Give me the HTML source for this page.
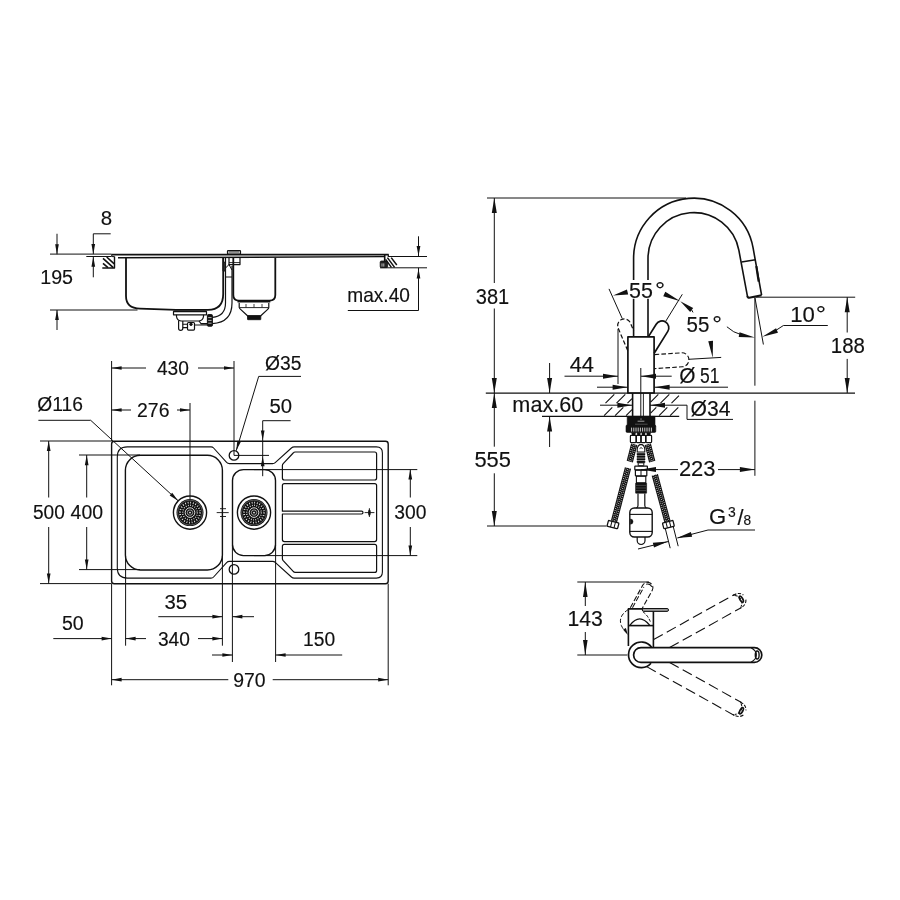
<!DOCTYPE html>
<html lang="en">
<head>
<meta charset="utf-8">
<title>Dimensional drawing</title>
<style>
html,body{margin:0;padding:0;background:#fff;}
body{width:900px;height:900px;overflow:hidden;}
svg{display:block;will-change:transform;}
svg text{font-family:"Liberation Sans",Arial,Helvetica,sans-serif;fill:#111;stroke:#111;stroke-width:0.15px;}
</style>
</head>
<body>
<svg width="900" height="900" viewBox="0 0 900 900" fill="none" stroke="#111" stroke-linecap="butt" stroke-linejoin="round">
<rect x="0" y="0" width="900" height="900" fill="#fff" stroke="none"/>
<g id="sink-side">
<line x1="111.3" y1="254.6" x2="388.7" y2="254.6" stroke-width="1.9"/>
<line x1="118" y1="257.8" x2="384" y2="256.6" stroke-width="1.4"/>
<path d="M111.8 254.6 V256.6 H114.5" stroke-width="1" fill="none"/>
<path d="M126 257.7 V296 Q126 308.3 140 308.6 L176 309.8 H208 Q223.2 309.8 223.2 294 V257.7" stroke-width="1.8" fill="none"/>
<path d="M233.3 257.7 V295 Q233.3 300.6 239 300.6 H269.5 Q275.3 300.6 275.3 295 V257.7" stroke-width="1.8" fill="none"/>
<path d="M173.5 311.6 H206.5 V314.8 H173.5 Z" stroke-width="1.2" fill="none"/>
<line x1="173.5" y1="311.2" x2="206.5" y2="311.2" stroke-width="1.6"/>
<path d="M176.5 314.8 V316.5 Q177 320.5 181 321 H199 Q203 320.5 203.5 316.5 V314.8" stroke-width="1.2" fill="none"/>
<path d="M178.6 320.5 V328.2 Q178.6 330.3 180.6 330.3 Q182.8 330.3 182.8 328.2 V321" stroke-width="1.2" fill="none"/>
<path d="M182.8 324.2 H187.5 M182.8 327.6 H187.5" stroke-width="1.1" fill="none"/>
<rect x="187.5" y="322.5" width="7" height="7.6" rx="1" stroke-width="1.2" fill="none"/>
<circle cx="191" cy="324.3" r="1.3" stroke-width="0.8" fill="#111"/>
<path d="M194.5 325 H207.4 M199 321 L201 323.6 H207.4" stroke-width="1.1" fill="none"/>
<rect x="207.4" y="314.6" width="5" height="11.6" rx="0.8" stroke-width="1" fill="#111"/>
<path d="M208.2 317.6 H211.6 M208.2 320.4 H211.6 M208.2 323.2 H211.6" stroke-width="0.7" fill="none" stroke="#fff"/>
<path d="M212.4 317.4 Q225.5 316 225.5 303 V272" stroke-width="1.2" fill="none"/>
<path d="M212.4 323.6 Q232 322.5 232 303 V266" stroke-width="1.2" fill="none"/>
<line x1="225.5" y1="277" x2="232" y2="277" stroke-width="1"/>
<path d="M223.2 258 V270.6 H225.5 M225.5 258 V272" stroke-width="1.2" fill="none"/>
<rect x="223.4" y="262" width="2" height="9" rx="0.3" stroke-width="0.6" fill="#333"/>
<path d="M225.5 268 L229 264.6 M229 264.6 L232 270" stroke-width="1" fill="none"/>
<rect x="227.5" y="250.6" width="13" height="3.6" rx="0.6" stroke-width="1.2" fill="none"/>
<line x1="228.6" y1="252" x2="239.4" y2="252" stroke-width="0.9"/>
<path d="M229 257.7 V264.6 H240 V257.7" stroke-width="1.2" fill="none"/>
<line x1="229" y1="262.6" x2="240" y2="262.6" stroke-width="0.9"/>
<line x1="237.5" y1="301.6" x2="270.3" y2="301.6" stroke-width="2"/>
<path d="M239.2 303 V307.4 Q239.6 308.6 240.6 309.4 L247.5 315.8 H260.8 L267.7 309.4 Q268.7 308.6 268.8 307.4 V303" stroke-width="1.2" fill="none"/>
<line x1="239.6" y1="307.6" x2="268.4" y2="307.6" stroke-width="0.9"/>
<path d="M246 304 V307.4 M254 304 V307.4 M262 304 V307.4" stroke-width="0.8" fill="none"/>
<rect x="247.5" y="315.8" width="13.3" height="3.9" rx="0.4" stroke-width="0.8" fill="#111"/>
<path d="M114.5 256.6 V268 H102.3" stroke-width="1.4" fill="none"/>
<path d="M103 258.3 L113.3 267.7 M106.7 257 L114.2 263.8 M103 263.3 L108 267.7" stroke-width="1.6" fill="none"/>
<path d="M388.3 254.6 V257" stroke-width="1.2" fill="none"/>
<rect x="380.2" y="261" width="7.4" height="6.6" rx="1.2" stroke-width="0.8" fill="#222"/>
<path d="M382 263.4 V266.6 M383.8 263.4 V266.6" stroke-width="0.7" fill="none" stroke="#fff"/>
<line x1="384.7" y1="255" x2="384.7" y2="262" stroke-width="1.6"/>
<path d="M385.6 259.4 L391.4 267.4 M387.4 257.6 L394.6 267.4 M391.2 257.6 L396.8 265" stroke-width="1.5" fill="none"/>
<line x1="388.3" y1="256.5" x2="427" y2="256.5" stroke-width="1"/>
<line x1="380" y1="267.8" x2="427" y2="267.8" stroke-width="1"/>
<line x1="418.5" y1="236.3" x2="418.5" y2="256.2" stroke-width="1"/>
<polygon points="418.5,255.9 416.65,245.9 420.35,245.9" fill="#111" stroke="none"/>
<line x1="418.5" y1="267.8" x2="418.5" y2="310.5" stroke-width="1"/>
<polygon points="418.5,268.4 420.35,278.4 416.65,278.4" fill="#111" stroke="none"/>
<line x1="347.8" y1="310.5" x2="418.5" y2="310.5" stroke-width="1"/>
<text transform="translate(347.23 302.2) scale(0.9335 1)" font-size="20.49">max.40</text>
<line x1="50" y1="254.1" x2="111.3" y2="254.1" stroke-width="1"/>
<line x1="86.3" y1="256.5" x2="111.5" y2="256.5" stroke-width="1"/>
<line x1="50" y1="310" x2="137.5" y2="310" stroke-width="1"/>
<line x1="57" y1="233.75" x2="57" y2="254.25" stroke-width="1"/>
<polygon points="57,254.25 55.15,244.25 58.85,244.25" fill="#111" stroke="none"/>
<line x1="57" y1="310" x2="57" y2="330" stroke-width="1"/>
<polygon points="57,310 58.85,320 55.15,320" fill="#111" stroke="none"/>
<path d="M110.7 233.8 H93.3 V254.1" stroke-width="1" fill="none"/>
<polygon points="93.3,253.9 91.45,243.9 95.15,243.9" fill="#111" stroke="none"/>
<line x1="93.3" y1="256.8" x2="93.3" y2="277.3" stroke-width="1"/>
<polygon points="93.3,256.8 95.15,266.8 91.45,266.8" fill="#111" stroke="none"/>
<text transform="translate(100.71 224.5) scale(0.9986 1)" font-size="20.49">8</text>
<text transform="translate(40.2 283.9) scale(0.9603 1)" font-size="20.49">195</text>
</g>
<g id="sink-plan">
<rect x="111.6" y="441.2" width="276.6" height="142.5" rx="2.7" stroke-width="1.4" fill="none"/>
<path d="M127.3 446.9 H211 Q212.6 446.9 213.6 448 L226.6 462.4 Q227.8 463.6 229.4 463.6 H272.6 Q274.2 463.6 275.2 462.6 L291.4 448 Q292.6 446.9 294.2 446.9 H376.4 Q382.4 446.9 382.4 452.9 V572.1 Q382.4 578.1 376.4 578.1 H294.2 Q292.6 578.1 291.4 577 L275.2 562.4 Q274.2 561.4 272.6 561.4 H229.4 Q227.8 561.4 226.6 562.6 L213.6 577 Q212.6 578.1 211 578.1 H127.3 Q117.3 578.1 117.3 568.1 V456.9 Q117.3 446.9 127.3 446.9 Z" stroke-width="1.1" fill="none"/>
<rect x="125.4" y="455.3" width="97" height="114.7" rx="15" stroke-width="1.4" fill="none"/>
<rect x="232.5" y="469.6" width="43" height="86" rx="11" stroke-width="1.4" fill="none"/>
<circle cx="234" cy="455.4" r="4.8" stroke-width="1.3" fill="none"/>
<circle cx="234" cy="569.4" r="4.8" stroke-width="1.3" fill="none"/>
<path d="M295.2 452 H374.6 Q376.6 452 376.6 454 V478 Q376.6 480 374.6 480 H284.4 Q282.4 480 282.4 478 V465.6 Q282.4 464.6 283.2 463.7 L293.2 453 Q294 452 295.2 452 Z" stroke-width="1.2" fill="none"/>
<path d="M284.4 483.6 H374.6 Q376.6 483.6 376.6 485.6 V539.6 Q376.6 541.6 374.6 541.6 H284.4 Q282.4 541.6 282.4 539.6 V514 H361.6 A1.4 1.4 0 0 0 361.6 511.2 H282.4 V485.6 Q282.4 483.6 284.4 483.6 Z" stroke-width="1.2" fill="none"/>
<path d="M295.2 572.4 H374.6 Q376.6 572.4 376.6 570.4 V546.4 Q376.6 544.4 374.6 544.4 H284.4 Q282.4 544.4 282.4 546.4 V558.8 Q282.4 559.8 283.2 560.7 L293.2 571.4 Q294 572.4 295.2 572.4 Z" stroke-width="1.2" fill="none"/>
<line x1="364.6" y1="512.6" x2="374.4" y2="512.6" stroke-width="0.9"/>
<line x1="369.4" y1="508.2" x2="369.4" y2="517" stroke-width="0.9"/>
<ellipse cx="369.4" cy="512.6" rx="1.3" ry="3.2" fill="#111" stroke="none"/>
<circle cx="190" cy="512.6" r="16.6" stroke-width="1.4" fill="#fff"/>
<circle cx="190" cy="512.6" r="13.5" stroke-width="0" fill="#111" stroke="none"/>
<circle cx="190" cy="512.6" r="12.5" stroke-width="0.4" fill="none" stroke="#bbb"/>
<circle cx="190" cy="512.6" r="10" stroke-width="1.8" fill="none" stroke="#fff" stroke-dasharray="0.8 1.818"/>
<circle cx="190" cy="512.6" r="7.3" stroke-width="1.4" fill="none" stroke="#fff" stroke-dasharray="0.75 1.543"/>
<circle cx="190" cy="512.6" r="4.8" stroke-width="0.85" fill="none" stroke="#fff"/>
<circle cx="190" cy="512.6" r="2.7" stroke-width="0.6" fill="none" stroke="#eee"/>
<circle cx="190" cy="512.6" r="0.9" stroke-width="0" fill="#eee" stroke="none"/>
<circle cx="254" cy="512.6" r="16.6" stroke-width="1.4" fill="#fff"/>
<circle cx="254" cy="512.6" r="13.5" stroke-width="0" fill="#111" stroke="none"/>
<circle cx="254" cy="512.6" r="12.5" stroke-width="0.4" fill="none" stroke="#bbb"/>
<circle cx="254" cy="512.6" r="10" stroke-width="1.8" fill="none" stroke="#fff" stroke-dasharray="0.8 1.818"/>
<circle cx="254" cy="512.6" r="7.3" stroke-width="1.4" fill="none" stroke="#fff" stroke-dasharray="0.75 1.543"/>
<circle cx="254" cy="512.6" r="4.8" stroke-width="0.85" fill="none" stroke="#fff"/>
<circle cx="254" cy="512.6" r="2.7" stroke-width="0.6" fill="none" stroke="#eee"/>
<circle cx="254" cy="512.6" r="0.9" stroke-width="0" fill="#eee" stroke="none"/>
<line x1="190" y1="403" x2="190" y2="499.4" stroke-width="1"/>
<line x1="216.7" y1="512.6" x2="228.7" y2="512.6" stroke-width="0.9"/>
<line x1="220" y1="508.7" x2="226" y2="508.7" stroke-width="0.9"/>
<line x1="220" y1="516.5" x2="226" y2="516.5" stroke-width="0.9"/>
<line x1="234" y1="455.4" x2="269" y2="455.4" stroke-width="1"/>
<line x1="111.6" y1="361" x2="111.6" y2="441" stroke-width="1"/>
<line x1="234" y1="361" x2="234" y2="455.4" stroke-width="1"/>
<line x1="111.6" y1="368" x2="146" y2="368" stroke-width="1"/>
<line x1="198" y1="368" x2="234" y2="368" stroke-width="1"/>
<polygon points="111.6,368 121.6,366.15 121.6,369.85" fill="#111" stroke="none"/>
<polygon points="234,368 224,369.85 224,366.15" fill="#111" stroke="none"/>
<text transform="translate(156.96 375.2) scale(0.9358 1)" font-size="20.49">430</text>
<line x1="111.6" y1="410" x2="131" y2="410" stroke-width="1"/>
<line x1="177" y1="410" x2="190" y2="410" stroke-width="1"/>
<polygon points="111.6,410 121.6,408.15 121.6,411.85" fill="#111" stroke="none"/>
<polygon points="190,410 180,411.85 180,408.15" fill="#111" stroke="none"/>
<text transform="translate(137.02 416.8) scale(0.9488 1)" font-size="20.49">276</text>
<text transform="translate(265.03 369.7) scale(0.9394 1)" font-size="20.49">&#216;35</text>
<path d="M301 376.4 H258.7 L236.2 450.8" stroke-width="1" fill="none"/>
<polygon points="236.2,450.8 237.32,440.69 240.86,441.76" fill="#111" stroke="none"/>
<text transform="translate(37.33 411.1) scale(0.9401 1)" font-size="20.49">&#216;116</text>
<path d="M38.4 420.3 H90.7 L178.3 500.9" stroke-width="1" fill="none"/>
<polygon points="178.3,500.9 169.69,495.49 172.19,492.77" fill="#111" stroke="none"/>
<text transform="translate(269.49 412.9) scale(0.9921 1)" font-size="20.49">50</text>
<path d="M290.6 420.7 H262.7 V476.2" stroke-width="1" fill="none"/>
<polygon points="262.7,440.4 260.85,430.4 264.55,430.4" fill="#111" stroke="none"/>
<polygon points="262.7,456.2 264.55,466.2 260.85,466.2" fill="#111" stroke="none"/>
<line x1="40" y1="441" x2="111.6" y2="441" stroke-width="1"/>
<line x1="40" y1="583.6" x2="111.6" y2="583.6" stroke-width="1"/>
<line x1="48.7" y1="441" x2="48.7" y2="497.5" stroke-width="1"/>
<line x1="48.7" y1="527" x2="48.7" y2="583.6" stroke-width="1"/>
<polygon points="48.7,441 50.55,451 46.85,451" fill="#111" stroke="none"/>
<polygon points="48.7,583.6 46.85,573.6 50.55,573.6" fill="#111" stroke="none"/>
<text transform="translate(32.94 519.2) scale(0.9306 1)" font-size="20.49">500</text>
<line x1="79" y1="455" x2="140" y2="455" stroke-width="1"/>
<line x1="79" y1="569.6" x2="140" y2="569.6" stroke-width="1"/>
<line x1="86.7" y1="455" x2="86.7" y2="497.5" stroke-width="1"/>
<line x1="86.7" y1="527" x2="86.7" y2="569.6" stroke-width="1"/>
<polygon points="86.7,455.2 88.55,465.2 84.85,465.2" fill="#111" stroke="none"/>
<polygon points="86.7,569.6 84.85,559.6 88.55,559.6" fill="#111" stroke="none"/>
<text transform="translate(70.55 519.2) scale(0.9510 1)" font-size="20.49">400</text>
<line x1="254" y1="469.6" x2="417.3" y2="469.6" stroke-width="1"/>
<line x1="254" y1="555.6" x2="417.3" y2="555.6" stroke-width="1"/>
<line x1="410.3" y1="469.6" x2="410.3" y2="497.5" stroke-width="1"/>
<line x1="410.3" y1="527" x2="410.3" y2="555.6" stroke-width="1"/>
<polygon points="410.3,469.6 412.15,479.6 408.45,479.6" fill="#111" stroke="none"/>
<polygon points="410.3,555.6 408.45,545.6 412.15,545.6" fill="#111" stroke="none"/>
<text transform="translate(394.27 519.2) scale(0.9417 1)" font-size="20.49">300</text>
<text transform="translate(164.53 608.9) scale(0.9930 1)" font-size="20.49">35</text>
<line x1="158.3" y1="616.7" x2="222.4" y2="616.7" stroke-width="1"/>
<polygon points="222.4,616.7 212.4,618.55 212.4,614.85" fill="#111" stroke="none"/>
<line x1="232.4" y1="616.7" x2="254" y2="616.7" stroke-width="1"/>
<polygon points="232.4,616.7 242.4,614.85 242.4,618.55" fill="#111" stroke="none"/>
<line x1="222.4" y1="556" x2="222.4" y2="645.7" stroke-width="1"/>
<line x1="232.4" y1="545" x2="232.4" y2="662" stroke-width="1"/>
<line x1="125.6" y1="556" x2="125.6" y2="645.7" stroke-width="1"/>
<line x1="125.6" y1="638.6" x2="146" y2="638.6" stroke-width="1"/>
<line x1="198" y1="638.6" x2="222.4" y2="638.6" stroke-width="1"/>
<polygon points="125.6,638.6 135.6,636.75 135.6,640.45" fill="#111" stroke="none"/>
<polygon points="222.4,638.6 212.4,640.45 212.4,636.75" fill="#111" stroke="none"/>
<text transform="translate(157.97 645.8) scale(0.9355 1)" font-size="20.49">340</text>
<text transform="translate(61.92 629.9) scale(0.9543 1)" font-size="20.49">50</text>
<line x1="53.3" y1="638.6" x2="111.6" y2="638.6" stroke-width="1"/>
<polygon points="111.6,638.6 101.6,640.45 101.6,636.75" fill="#111" stroke="none"/>
<text transform="translate(303.03 645.9) scale(0.9396 1)" font-size="20.49">150</text>
<line x1="212" y1="655" x2="232.4" y2="655" stroke-width="1"/>
<polygon points="232.4,655 222.4,656.85 222.4,653.15" fill="#111" stroke="none"/>
<line x1="275.6" y1="655" x2="342.2" y2="655" stroke-width="1"/>
<polygon points="275.6,655 285.6,653.15 285.6,656.85" fill="#111" stroke="none"/>
<line x1="275.6" y1="545" x2="275.6" y2="662" stroke-width="1"/>
<line x1="111.6" y1="583.6" x2="111.6" y2="685.3" stroke-width="1"/>
<line x1="388.2" y1="583.6" x2="388.2" y2="685.3" stroke-width="1"/>
<line x1="111.6" y1="679.7" x2="228.3" y2="679.7" stroke-width="1"/>
<line x1="272.7" y1="679.7" x2="388.2" y2="679.7" stroke-width="1"/>
<polygon points="111.6,679.7 121.6,677.85 121.6,681.55" fill="#111" stroke="none"/>
<polygon points="388.2,679.7 378.2,681.55 378.2,677.85" fill="#111" stroke="none"/>
<text transform="translate(233.29 686.9) scale(0.9469 1)" font-size="20.49">970</text>
</g>
<g id="faucet-side">
<path d="M633.6 337 V298.8 M633.6 280 V258.4 A60.2 60.2 0 0 1 753.09 247.95 L761.6 295.2" stroke-width="1.6" fill="none"/>
<path d="M648 337 V298.8 M648 280 V258.4 A45.8 45.8 0 0 1 738.9 250.45 L747.6 297.2" stroke-width="1.6" fill="none"/>
<line x1="741.5" y1="262" x2="755.5" y2="259.7" stroke-width="1.6"/>
<path d="M747.4 296 Q747.9 298.1 749.2 297.7 L761.6 295.2" stroke-width="2" fill="none"/>
<line x1="756.3" y1="266.2" x2="758.7" y2="281.6" stroke-width="2.2"/>
<rect x="627.9" y="336.9" width="26.2" height="56.1" rx="0" stroke-width="1.7" fill="none"/>
<line x1="632.6" y1="393" x2="632.6" y2="416.3" stroke-width="1.6"/>
<line x1="650" y1="393" x2="650" y2="416.3" stroke-width="1.6"/>
<line x1="640.8" y1="368" x2="640.8" y2="416.3" stroke-width="1"/>
<line x1="643.4" y1="393" x2="643.4" y2="416.3" stroke-width="0.9"/>
<path d="M648.3 336.9 L656.2 324.2 A6.8 6.8 0 0 1 667.8 331.4 L654.2 353.3" stroke-width="1.7" fill="none"/>
<path d="M627.7 350.6 L618.2 328.2 A6.6 6.6 0 0 1 630.4 323 L633.7 331" stroke-width="1.2" fill="none" stroke-dasharray="4.4 2.2"/>
<path d="M654.6 354.6 L681.4 352.8 A7 7 0 0 1 682.4 366.8 L654.6 368.6" stroke-width="1.1" fill="none" stroke-dasharray="4.6 2.2"/>
<line x1="688.6" y1="359.3" x2="721.2" y2="357.4" stroke-width="1"/>
<line x1="485.8" y1="393.2" x2="855" y2="393.2" stroke-width="1.25"/>
<line x1="542" y1="416.3" x2="679.2" y2="416.3" stroke-width="1.3"/>
<path d="M605.5 403.2 L614.3 394.4 M616.5 403.2 L625.3 394.4 M604.1 415.6 L612.3 407.4 M627.5 403.2 L632 398.7 M615.1 415.6 L623.3 407.4 M626.1 415.6 L632 409.7 M650.6 402.1 L658.3 394.4 M660.5 403.2 L669.3 394.4 M650.6 413.1 L656.3 407.4 M671.5 403.2 L679 395.7 M659.1 415.6 L667.3 407.4 M670.1 415.6 L678.3 407.4" stroke-width="1.1" fill="none"/>
<rect x="627.2" y="416.4" width="27.8" height="10" rx="0.6" stroke-width="0.6" fill="#111"/>
<rect x="626" y="425" width="29.8" height="7.4" rx="1.2" stroke-width="0.6" fill="#111"/>
<path d="M631.6 427.6 V431.6 M633.8 427.6 V431.6 M636 427.6 V431.6 M638.2 427.6 V431.6 M640.4 427.6 V431.6 M642.6 427.6 V431.6 M644.8 427.6 V431.6 M647 427.6 V431.6 M649.2 427.6 V431.6 M651.4 427.6 V431.6" stroke-width="0.8" fill="none" stroke="#fff"/>
<path d="M637.6 421.2 H644.4 M641 418.4 V419.8" stroke-width="0.6" fill="none" stroke="#fff"/>
<path d="M635 424.2 H647.6" stroke-width="0.5" fill="none" stroke="#888"/>
<path d="M631.6 432.4 H635.6 L635 435.4 H632.2 Z M637 432.4 H640.4 L640 435.4 H637.4 Z M641.8 432.4 H645.2 L644.8 435.4 H642.2 Z M646.6 432.4 H650.6 L650 435.4 H647.2 Z" stroke-width="0.5" fill="#111"/>
<rect x="630.4" y="435.4" width="5.6" height="7.2" rx="0.8" stroke-width="1.2" fill="none"/>
<rect x="636.4" y="435.4" width="4.4" height="7.2" rx="0.8" stroke-width="1.2" fill="none"/>
<rect x="641.2" y="435.4" width="4.4" height="7.2" rx="0.8" stroke-width="1.2" fill="none"/>
<rect x="646" y="435.4" width="5.6" height="7.2" rx="0.8" stroke-width="1.2" fill="none"/>
<line x1="634.2" y1="444.2" x2="629.8" y2="461.6" stroke-width="6.4"/>
<line x1="635.85" y1="444.62" x2="631.45" y2="462.02" stroke-width="0.9" stroke="#fff" stroke-dasharray="0.8 1.4" stroke-dashoffset="0"/>
<line x1="634.2" y1="444.2" x2="629.8" y2="461.6" stroke-width="0.9" stroke="#fff" stroke-dasharray="0.8 1.4" stroke-dashoffset="1.1"/>
<line x1="632.55" y1="443.78" x2="628.15" y2="461.18" stroke-width="0.9" stroke="#fff" stroke-dasharray="0.8 1.4" stroke-dashoffset="0"/>
<line x1="647.8" y1="444.2" x2="652.2" y2="461.6" stroke-width="6.4"/>
<line x1="649.45" y1="443.78" x2="653.85" y2="461.18" stroke-width="0.9" stroke="#fff" stroke-dasharray="0.8 1.4" stroke-dashoffset="0"/>
<line x1="647.8" y1="444.2" x2="652.2" y2="461.6" stroke-width="0.9" stroke="#fff" stroke-dasharray="0.8 1.4" stroke-dashoffset="1.1"/>
<line x1="646.15" y1="444.62" x2="650.55" y2="462.02" stroke-width="0.9" stroke="#fff" stroke-dasharray="0.8 1.4" stroke-dashoffset="0"/>
<path d="M641 444.4 Q637.4 445 637.2 449.6 V452 H644.8 V449.6 Q644.6 445 641 444.4" stroke-width="1.1" fill="none"/>
<path d="M639.6 448.6 Q641 446.6 642.6 448.6" stroke-width="0.9" fill="none"/>
<rect x="637" y="453.2" width="8" height="1.7" rx="0.2" stroke-width="0.5" fill="#111"/>
<rect x="637" y="455.8" width="8" height="1.7" rx="0.2" stroke-width="0.5" fill="#111"/>
<rect x="637" y="458.4" width="8" height="1.7" rx="0.2" stroke-width="0.5" fill="#111"/>
<rect x="637" y="461" width="8" height="1.7" rx="0.2" stroke-width="0.5" fill="#111"/>
<rect x="638.2" y="462.8" width="5.6" height="3" rx="0.2" stroke-width="1" fill="none"/>
<rect x="634.8" y="466.2" width="12.6" height="3.6" rx="0.4" stroke-width="1.2" fill="none"/>
<rect x="635.4" y="470.2" width="11.4" height="5.6" rx="0.4" stroke-width="1.2" fill="none"/>
<line x1="641" y1="470.2" x2="641" y2="475.8" stroke-width="1"/>
<rect x="636.4" y="476.2" width="9.4" height="6.6" rx="0.4" stroke-width="1.1" fill="none"/>
<rect x="635.6" y="483" width="11" height="10.2" rx="0.3" stroke-width="0.6" fill="#111"/>
<path d="M636 485.4 H646.2 M636 488 H646.2 M636 490.6 H646.2" stroke-width="0.5" fill="none" stroke="#777"/>
<path d="M638 493.4 V505.4 Q638 507.2 636.4 508 M644.8 493.4 V505.4 Q644.8 507.2 646.4 508" stroke-width="1.2" fill="none"/>
<rect x="629.8" y="508" width="22.4" height="29" rx="4.5" stroke-width="1.4" fill="none"/>
<line x1="629.8" y1="514.4" x2="652.2" y2="514.4" stroke-width="1.1"/>
<line x1="629.8" y1="531.4" x2="652.2" y2="531.4" stroke-width="1.1"/>
<path d="M630.4 519 A2.6 2.6 0 0 1 630.4 524.2 Z" stroke-width="0.5" fill="#111"/>
<path d="M637.2 537 V540.6 A3.9 3.9 0 0 0 645 540.6 V537" stroke-width="1.2" fill="none"/>
<line x1="628" y1="468" x2="614" y2="521.4" stroke-width="6.4"/>
<line x1="629.64" y1="468.43" x2="615.64" y2="521.83" stroke-width="0.9" stroke="#fff" stroke-dasharray="0.8 1.4" stroke-dashoffset="0"/>
<line x1="628" y1="468" x2="614" y2="521.4" stroke-width="0.9" stroke="#fff" stroke-dasharray="0.8 1.4" stroke-dashoffset="1.1"/>
<line x1="626.36" y1="467.57" x2="612.36" y2="520.97" stroke-width="0.9" stroke="#fff" stroke-dasharray="0.8 1.4" stroke-dashoffset="0"/>
<line x1="654.8" y1="474.8" x2="667.4" y2="521.4" stroke-width="6.4"/>
<line x1="656.44" y1="474.36" x2="669.04" y2="520.96" stroke-width="0.9" stroke="#fff" stroke-dasharray="0.8 1.4" stroke-dashoffset="0"/>
<line x1="654.8" y1="474.8" x2="667.4" y2="521.4" stroke-width="0.9" stroke="#fff" stroke-dasharray="0.8 1.4" stroke-dashoffset="1.1"/>
<line x1="653.16" y1="475.24" x2="665.76" y2="521.84" stroke-width="0.9" stroke="#fff" stroke-dasharray="0.8 1.4" stroke-dashoffset="0"/>
<g transform="rotate(14.5 613 524.6)">
<rect x="607.6" y="521.6" width="10.8" height="6" rx="0.8" stroke-width="1.3" fill="#fff"/>
<line x1="611.2" y1="521.6" x2="611.2" y2="527.6" stroke-width="1"/>
<line x1="614.8" y1="521.6" x2="614.8" y2="527.6" stroke-width="1"/>
</g>
<g transform="rotate(-14.5 668.4 524.6)">
<rect x="663" y="521.6" width="10.8" height="6" rx="0.8" stroke-width="1.3" fill="#fff"/>
<line x1="666.6" y1="521.6" x2="666.6" y2="527.6" stroke-width="1"/>
<line x1="670.2" y1="521.6" x2="670.2" y2="527.6" stroke-width="1"/>
</g>
<line x1="665.2" y1="528.2" x2="670.2" y2="548.2" stroke-width="1"/>
<line x1="673.2" y1="526.4" x2="678.2" y2="546.2" stroke-width="1"/>
<line x1="487" y1="198" x2="686" y2="198" stroke-width="1"/>
<line x1="487" y1="526" x2="606.6" y2="526" stroke-width="1"/>
<line x1="494.3" y1="198" x2="494.3" y2="283" stroke-width="1"/>
<line x1="494.3" y1="308.5" x2="494.3" y2="446.7" stroke-width="1"/>
<line x1="494.3" y1="473.3" x2="494.3" y2="526" stroke-width="1"/>
<polygon points="494.3,198 496.8,213 491.8,213" fill="#111" stroke="none"/>
<polygon points="494.3,393 491.8,378 496.8,378" fill="#111" stroke="none"/>
<polygon points="494.3,393 496.8,408 491.8,408" fill="#111" stroke="none"/>
<polygon points="494.3,526 491.8,511 496.8,511" fill="#111" stroke="none"/>
<text transform="translate(475.74 303.5) scale(0.9390 1)" font-size="21.35">381</text>
<text transform="translate(474.42 467.2) scale(1.0247 1)" font-size="21.35">555</text>
<text transform="translate(512.36 412.3) scale(1.0140 1)" font-size="21.35">max.60</text>
<line x1="549.6" y1="363" x2="549.6" y2="393" stroke-width="1"/>
<polygon points="549.6,393 547.1,378 552.1,378" fill="#111" stroke="none"/>
<line x1="549.6" y1="416.3" x2="549.6" y2="447" stroke-width="1"/>
<polygon points="549.6,416.6 552.1,431.6 547.1,431.6" fill="#111" stroke="none"/>
<text transform="translate(569.7 372) scale(1.0252 1)" font-size="21.35">44</text>
<line x1="564.5" y1="376.2" x2="618" y2="376.2" stroke-width="1"/>
<polygon points="618,376.2 603,378.7 603,373.7" fill="#111" stroke="none"/>
<line x1="618" y1="329" x2="618" y2="384" stroke-width="1"/>
<line x1="641" y1="376.2" x2="671.7" y2="376.2" stroke-width="1"/>
<polygon points="641,376.2 656,373.7 656,378.7" fill="#111" stroke="none"/>
<text transform="translate(679.28 382.6) scale(0.9772 1)" font-size="21.35">&#216;</text>
<text transform="translate(700 382.6) scale(0.8193 1)" font-size="21.35">51</text>
<line x1="597" y1="387.2" x2="627.6" y2="387.2" stroke-width="1"/>
<polygon points="627.6,387.2 612.6,389.7 612.6,384.7" fill="#111" stroke="none"/>
<line x1="654.6" y1="387.2" x2="728" y2="387.2" stroke-width="1"/>
<polygon points="654.6,387.2 669.6,384.7 669.6,389.7" fill="#111" stroke="none"/>
<text transform="translate(690.47 415.7) scale(0.9902 1)" font-size="21.35">&#216;34</text>
<line x1="600" y1="405.2" x2="632.4" y2="405.2" stroke-width="1"/>
<polygon points="632.4,405.2 617.4,407.7 617.4,402.7" fill="#111" stroke="none"/>
<path d="M650 405.2 H687 V419.4 H733" stroke-width="1" fill="none"/>
<polygon points="650,405.2 665,402.7 665,407.7" fill="#111" stroke="none"/>
<line x1="756" y1="297.2" x2="855.2" y2="297.2" stroke-width="1"/>
<line x1="847.2" y1="297.2" x2="847.2" y2="332.5" stroke-width="1"/>
<line x1="847.2" y1="358.9" x2="847.2" y2="393" stroke-width="1"/>
<polygon points="847.2,297.2 849.7,312.2 844.7,312.2" fill="#111" stroke="none"/>
<polygon points="847.2,393 844.7,378 849.7,378" fill="#111" stroke="none"/>
<text transform="translate(830.84 353) scale(0.9588 1)" font-size="21.35">188</text>
<line x1="754.9" y1="297.4" x2="754.9" y2="385.7" stroke-width="1"/>
<line x1="754.9" y1="400.7" x2="754.9" y2="475.8" stroke-width="1"/>
<line x1="754.9" y1="297.4" x2="763.4" y2="344.5" stroke-width="1"/>
<text transform="translate(790.21 322) scale(1.0383 1)" font-size="21.35">10</text>
<text transform="translate(815.87 322) scale(1.2034 1)" font-size="21.35">&#176;</text>
<path d="M827.8 325.5 H783.4 L774 331.6" stroke-width="1" fill="none"/>
<polygon points="762.3,336.7 776.09,328.24 777.97,332.66" fill="#111" stroke="none"/>
<text transform="translate(686.58 332.1) scale(0.9594 1)" font-size="21.35">55</text>
<text transform="translate(712.15 332.1) scale(1.1366 1)" font-size="21.35">&#176;</text>
<path d="M726.9 326.8 Q733 332.6 742 335" stroke-width="1" fill="none"/>
<polygon points="754.9,337.4 738.73,336.99 739.56,332.26" fill="#111" stroke="none"/>
<polygon points="712.7,357.8 708.25,341.22 713.01,340.63" fill="#111" stroke="none"/>
<text transform="translate(629.04 297.7) scale(1.0049 1)" font-size="21.35">55</text>
<text transform="translate(655.09 297.7) scale(1.1867 1)" font-size="21.35">&#176;</text>
<line x1="609" y1="288.9" x2="622.3" y2="318.7" stroke-width="1"/>
<line x1="682.3" y1="294.3" x2="665.7" y2="321.3" stroke-width="1"/>
<polygon points="613,295.6 626.95,289.55 628.16,294.4" fill="#111" stroke="none"/>
<polygon points="680.3,301.3 663.25,296.28 665.32,291.73" fill="#111" stroke="none"/>
<polygon points="680.3,301.3 693.19,307.98 690.16,311.95" fill="#111" stroke="none"/>
<line x1="691.7" y1="310" x2="693" y2="312.4" stroke-width="1"/>
<text transform="translate(678.89 475.8) scale(1.0296 1)" font-size="21.35">223</text>
<line x1="641" y1="469.6" x2="678" y2="469.6" stroke-width="1"/>
<polygon points="641,469.6 656,467.1 656,472.1" fill="#111" stroke="none"/>
<line x1="718" y1="469.6" x2="754.9" y2="469.6" stroke-width="1"/>
<polygon points="754.9,469.6 739.9,472.1 739.9,467.1" fill="#111" stroke="none"/>
<text transform="translate(708.89 524.4) scale(1.0333 1)" font-size="21.35">G</text>
<text transform="translate(728.07 516.6) scale(0.9717 1)" font-size="14.33">3</text>
<text transform="translate(737.6 525.4) scale(1.0117 1)" font-size="21.35">/</text>
<text transform="translate(743.41 525.2) scale(0.9520 1)" font-size="14.33">8</text>
<path d="M755 530 H708 L677.4 538" stroke-width="1" fill="none"/>
<polygon points="677,538.1 690.89,531.9 692.15,536.74" fill="#111" stroke="none"/>
<line x1="638" y1="549" x2="668" y2="541.6" stroke-width="1"/>
<polygon points="668,541.6 654.03,547.61 652.84,542.75" fill="#111" stroke="none"/>
</g>
<g id="faucet-top">
<g transform="rotate(-29.1 641 655)" stroke-dasharray="10.4 4.6">
<line x1="659.6" y1="647.6" x2="752" y2="647.6" stroke-width="1.1"/>
<line x1="669.6" y1="662.4" x2="752" y2="662.4" stroke-width="1.1"/>
</g>
<g transform="rotate(-29.1 641 655) translate(-2.2 0)">
<path d="M752.6 647.8 Q759.4 647.2 761.8 652.4 M761.8 657.6 Q759.4 662.8 752.6 662.2" stroke-width="1.1" fill="none" stroke-dasharray="3.4 1.6"/>
<path d="M754 648.6 Q757.4 651 757.6 655 Q757.4 659 754 661.4" stroke-width="1" fill="none" stroke-dasharray="3 1.4"/>
<ellipse cx="758" cy="655" rx="1.4" ry="3.4" stroke-width="1.7" fill="none"/>
</g>
<g transform="rotate(29.1 641 655)" stroke-dasharray="10.4 4.6">
<line x1="669.6" y1="647.6" x2="752" y2="647.6" stroke-width="1.1"/>
<line x1="651.6" y1="662.4" x2="752" y2="662.4" stroke-width="1.1"/>
</g>
<g transform="rotate(29.1 641 655) translate(-2.2 0)">
<path d="M752.6 647.8 Q759.4 647.2 761.8 652.4 M761.8 657.6 Q759.4 662.8 752.6 662.2" stroke-width="1.1" fill="none" stroke-dasharray="3.4 1.6"/>
<path d="M754 648.6 Q757.4 651 757.6 655 Q757.4 659 754 661.4" stroke-width="1" fill="none" stroke-dasharray="3 1.4"/>
<ellipse cx="758" cy="655" rx="1.4" ry="3.4" stroke-width="1.7" fill="none"/>
</g>
<path d="M628.4 646 V608.9 H653.4 V647.4" stroke-width="1.6" fill="none"/>
<line x1="628.4" y1="625.6" x2="653.4" y2="625.6" stroke-width="1.6"/>
<path d="M630 625.2 Q639.6 612.6 649.6 625.2" stroke-width="1.3" fill="none"/>
<path d="M643 611.8 Q647.8 615.4 650.3 621.6" stroke-width="1" fill="none" stroke-dasharray="3.2 1.5"/>
<rect x="642.3" y="608.5" width="26.2" height="2.9" rx="1.4" stroke-width="1" fill="#999"/>
<g transform="rotate(29 636.3 608)">
<path d="M630.9 610.6 V584.8 A5.4 5.4 0 0 1 641.7 584.8 V606.4" stroke-width="1.1" fill="none" stroke-dasharray="5.4 2.2"/>
<path d="M632.8 609.6 V586" stroke-width="1" fill="none" stroke-dasharray="5.4 2.2"/>
<path d="M633.4 582.4 Q636.3 579.6 639.6 582" stroke-width="1" fill="none"/>
</g>
<path d="M628.4 609.4 Q617.6 616.4 621.4 625.6 Q623.4 630 626.4 632.6" stroke-width="1" fill="none" stroke-dasharray="4.2 2"/>
<polygon points="627.8,635 623.1,629.57 625.93,628.07" fill="#111" stroke="none"/>
<path d="M651.6 647.2 A12.8 12.8 0 1 0 651.0 663.2" stroke-width="1.7" fill="none"/>
<path d="M641 647.6 H754.4 A7.4 7.4 0 0 1 754.4 662.4 H641 A7.4 7.4 0 0 1 641 647.6 Z" stroke-width="1.7" fill="#fff"/>
<path d="M751 647.8 Q756.4 650.6 756.4 655 Q756.4 659.4 751 662.2" stroke-width="1.1" fill="none"/>
<ellipse cx="757.2" cy="655" rx="1.9" ry="4.0" stroke-width="1.4" fill="none"/>
<line x1="577.3" y1="582" x2="649" y2="582" stroke-width="1"/>
<line x1="577.3" y1="655" x2="627.4" y2="655" stroke-width="1"/>
<line x1="585.3" y1="582" x2="585.3" y2="606" stroke-width="1"/>
<line x1="585.3" y1="632" x2="585.3" y2="655" stroke-width="1"/>
<polygon points="585.3,582 587.6,597 583,597" fill="#111" stroke="none"/>
<polygon points="585.3,655 583,640 587.6,640" fill="#111" stroke="none"/>
<text transform="translate(567.38 626) scale(0.9954 1)" font-size="21.35">143</text>
</g>
</svg>
</body>
</html>
